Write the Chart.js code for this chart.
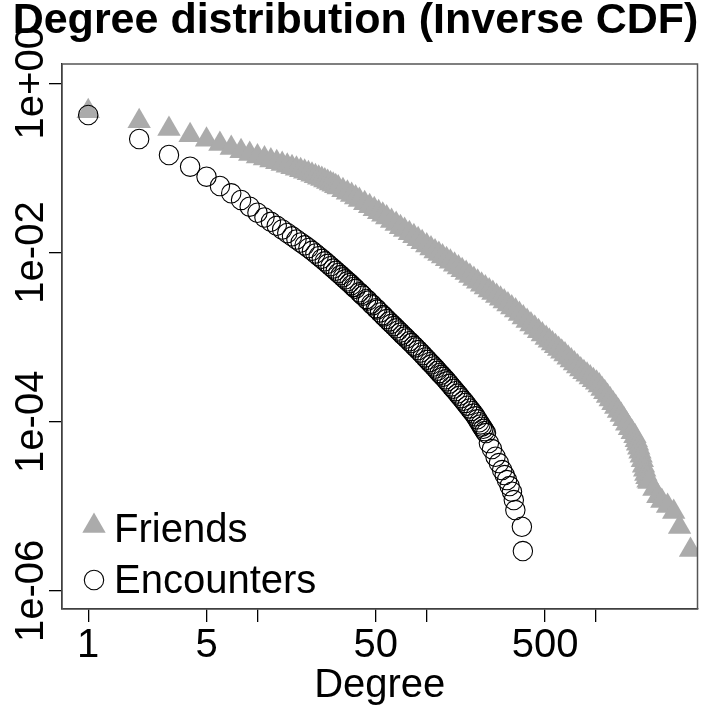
<!DOCTYPE html>
<html>
<head>
<meta charset="utf-8">
<script src="https://cdn.jsdelivr.net/npm/chart.js@4.4.1/dist/chart.umd.min.js"></script>
<style>
  html, body { margin: 0; padding: 0; background: #fff; }
  #wrap { width: 711px; height: 714px; }
</style>
</head>
<body>
<div id="wrap"><canvas id="chart" width="711" height="714"></canvas></div>
<script>
// Texte
const chartTitle = 'Degree distribution (Inverse CDF)';
const xTitle = 'Degree';
const seriesNames = ['Friends', 'Encounters'];

// Achsen (log-log)
const xTickValues = [1, 5, 10, 50, 100, 500, 1000];
const xTickLabels = ['1', '5', '', '50', '', '500', ''];
const yTickValues = [1, 1e-2, 1e-4, 1e-6];
const yTickLabels = ['1e+00', '1e-02', '1e-04', '1e-06'];

// Friends: Grad -> P(D >= Grad)
const friendsDegree = [1, 2, 3, 4, 5, 6, 7, 8, 9, 10, 11, 12, 13, 14, 15, 16, 17, 18, 19, 20,
  21, 22, 23, 24, 25, 26, 27, 28, 29, 30,
  32, 34, 36, 38, 40, 43, 46, 49, 52, 55, 58, 62, 66, 70, 74, 79, 84, 89, 94,
  100, 106, 112, 118, 124, 131, 138, 146, 154, 162, 171, 180, 190, 200, 211, 222,
  234, 246, 259, 273, 287, 302, 318, 335, 353, 372, 392, 413, 435, 458, 482,
  508, 530, 553, 577, 602, 628, 656, 685, 715, 746, 779, 813, 849, 886, 925, 966,
  1008, 1046, 1086, 1127, 1170, 1214, 1260, 1308, 1358, 1410, 1463, 1519, 1577, 1637, 1700,
  1730, 1760, 1790, 1820, 1850, 1880, 1910, 1940, 1970, 2000, 2030, 2060,
  2200, 2320, 2450, 2650, 2880, 3120, 3620];
const friendsCcdf = [0.4667, 0.3555, 0.2884, 0.2428, 0.2154, 0.1916, 0.1718, 0.1571, 0.1460, 0.1364,
  0.1292, 0.1223, 0.1165, 0.1112, 0.1062, 0.1016, 0.0976, 0.0937, 0.0899, 0.0863,
  0.0829, 0.0798, 0.0766, 0.0737, 0.0710, 0.0681, 0.0656, 0.0631, 0.0608, 0.0585,
  0.0545, 0.0509, 0.0477, 0.04455, 0.04184, 0.03825, 0.03517, 0.03241, 0.02995, 0.02790,
  0.02593, 0.02363, 0.02166, 0.01991, 0.01850, 0.01691, 0.01554, 0.01432, 0.01324,
  0.01210, 0.01112, 0.01030, 0.009601, 0.008968, 0.008333, 0.007763, 0.007155, 0.006630,
  0.006178, 0.005707, 0.005289, 0.004874, 0.004505, 0.004151, 0.003858,
  0.003565, 0.003313, 0.003069, 0.002836, 0.002628, 0.002428, 0.002244, 0.002068, 0.001880,
  0.001710, 0.001554, 0.001409, 0.001288, 0.001174, 0.001073,
  0.0009759, 0.0009066, 0.0008401, 0.0007784, 0.0007233, 0.0006702, 0.0006211, 0.0005723,
  0.0005275, 0.0004874, 0.0004493, 0.0004140, 0.0003846, 0.0003584, 0.0003331, 0.0003102,
  0.0002891, 0.0002686, 0.0002441, 0.0002226, 0.0002018, 0.0001830, 0.0001654, 0.0001492,
  0.0001342, 0.0001203, 0.0001068, 9.445e-5, 8.401e-5, 7.535e-5, 6.721e-5,
  6.044e-5, 5.481e-5, 4.928e-5, 4.420e-5, 3.964e-5, 3.498e-5, 3.019e-5, 2.700e-5,
  2.409e-5, 2.202e-5, 2.013e-5, 1.937e-5,
  1.60e-5, 1.32e-5, 1.16e-5, 1.01e-5, 8.57e-6, 5.69e-6, 3.04e-6];

// Encounters
const encDegree = [1, 2, 3, 4, 5, 6, 7, 8, 9, 10, 11, 12, 13, 14, 15, 16, 17, 18, 19, 20,
  21, 22, 23, 24, 25, 26, 27, 28, 29, 30,
  31, 32, 33, 34, 35, 36, 37, 38, 40, 41, 42, 44, 45, 47, 48, 50, 51, 53, 55, 56,
  58, 60, 62, 64, 66, 68, 70, 72, 74, 76, 79, 81, 84, 86, 89, 92, 95, 98, 101, 104,
  107, 110, 113, 116, 119, 122, 125, 129, 132, 136, 140, 144, 148, 152, 156, 160, 165, 169, 174, 179,
  184, 189, 194, 199, 204, 208, 212, 216, 220, 224,
  233, 243, 255, 267, 279, 289, 298, 309, 319, 327, 334, 365, 370];
const encCcdf = [0.4219, 0.2196, 0.1421, 0.1033, 0.0787, 0.0611, 0.0501, 0.0418, 0.0348, 0.0295,
  0.02593, 0.02306, 0.02068, 0.01870, 0.01700, 0.01554, 0.01424, 0.01313, 0.01216, 0.01130,
  0.01047, 0.009732, 0.009045, 0.008424, 0.007870, 0.007352, 0.006888, 0.006452, 0.006077, 0.005723,
  0.005406, 0.005091, 0.004824, 0.004568, 0.004349, 0.004128, 0.003922, 0.003724, 0.003385, 0.003232,
  0.003086, 0.002828, 0.002700, 0.002482, 0.002383, 0.002196, 0.002114, 0.001959, 0.001820, 0.001757,
  0.001636, 0.001533, 0.001436, 0.001349, 0.001271, 0.001197, 0.001133, 0.001070, 0.001016, 0.0009627,
  0.0008943, 0.0008494, 0.0007892, 0.0007556, 0.0007038, 0.0006577, 0.0006143, 0.0005754, 0.0005391, 0.0005063,
  0.0004770, 0.0004493, 0.0004243, 0.0003997, 0.0003774, 0.0003584, 0.0003394, 0.0003171, 0.0003002, 0.0002805,
  0.0002615, 0.0002448, 0.0002300, 0.0002154, 0.0002023, 0.0001901, 0.0001766, 0.0001668, 0.0001546, 0.0001436,
  0.0001342, 0.0001250, 0.0001158, 0.0001068, 9.865e-5, 9.292e-5, 8.751e-5, 8.244e-5, 7.763e-5, 7.352e-5,
  5.600e-5, 4.757e-5, 3.858e-5, 3.249e-5, 2.686e-5, 2.344e-5, 2.046e-5, 1.738e-5, 1.488e-5, 1.187e-5,
  9.04e-6, 5.74e-6, 2.96e-6];

const FONT = '"Liberation Sans", Arial, Helvetica, sans-serif';
const GREY = '#ababab';

const toPoints = (xs, ys) => xs.map((x, i) => ({ x: x, y: ys[i] }));

// Legendenzeichen wie im Plot (Dreieck gefuellt, Kreis offen)
function drawMarker(ctx, ds, x, y) {
    const r = ds.pointRadius;
    ctx.beginPath();
    if (ds.pointStyle === 'triangle') {
        const h = r * Math.sin(Math.PI / 3);
        ctx.moveTo(x, y - r);
        ctx.lineTo(x + h, y + r / 2);
        ctx.lineTo(x - h, y + r / 2);
        ctx.closePath();
        ctx.fillStyle = ds.backgroundColor;
        ctx.fill();
    } else {
        ctx.arc(x, y, r, 0, Math.PI * 2);
        ctx.strokeStyle = ds.borderColor;
        ctx.lineWidth = ds.borderWidth;
        ctx.stroke();
    }
}

// Rahmen, Achsenbeschriftung, Titel und Legende im R-Stil
const rStylePlugin = {
    id: 'rStyle',
    afterDatasetsDraw(chart) {
        const { ctx, chartArea: a } = chart;
        ctx.save();
        ctx.strokeStyle = '#555';
        ctx.lineWidth = 1.5;
        ctx.strokeRect(a.left, a.top, a.right - a.left, a.bottom - a.top);
        ctx.restore();
    },
    afterDraw(chart) {
        const { ctx, chartArea: a, scales } = chart;
        ctx.save();
        ctx.fillStyle = '#000';

        // Titel
        ctx.font = 'bold 43px ' + FONT;
        ctx.textAlign = 'center';
        ctx.textBaseline = 'alphabetic';
        ctx.fillText(chartTitle, 355.5, 33);

        // x-Beschriftungen
        ctx.font = '40px ' + FONT;
        xTickValues.forEach((v, i) => {
            if (!xTickLabels[i]) return;
            ctx.fillText(xTickLabels[i], scales.x.getPixelForValue(v), 657);
        });
        ctx.fillText(xTitle, (a.left + a.right) / 2, 697);

        // y-Beschriftungen (gedreht)
        yTickValues.forEach((v, i) => {
            const py = scales.y.getPixelForValue(v);
            ctx.save();
            ctx.translate(43, py);
            ctx.rotate(-Math.PI / 2);
            ctx.fillText(yTickLabels[i], 0, 0);
            ctx.restore();
        });

        // Legende unten links
        const legendRows = [{ mark: 526, text: 542 }, { mark: 580, text: 593 }];
        chart.data.datasets.forEach((ds, i) => {
            const row = legendRows[i];
            drawMarker(ctx, ds, 94, row.mark);
            ctx.fillStyle = '#000';
            ctx.textAlign = 'left';
            ctx.font = '40px ' + FONT;
            ctx.fillText(ds.label, 114, row.text);
        });
        ctx.restore();
    }
};

const axisGrid = { display: true, drawOnChartArea: false, drawTicks: true, tickLength: 13, color: '#000', lineWidth: 1.3 };

new Chart(document.getElementById('chart'), {
    type: 'scatter',
    data: {
        datasets: [
            {
                label: seriesNames[0],
                data: toPoints(friendsDegree, friendsCcdf),
                pointStyle: 'triangle',
                pointRadius: 13.5,
                backgroundColor: GREY,
                borderColor: GREY,
                borderWidth: 0,
                order: 2,
                clip: 0
            },
            {
                label: seriesNames[1],
                data: toPoints(encDegree, encCcdf),
                pointStyle: 'circle',
                pointRadius: 9.7,
                backgroundColor: 'rgba(0,0,0,0)',
                borderColor: '#000',
                borderWidth: 1.1,
                order: 1,
                clip: 0
            }
        ]
    },
    options: {
        responsive: false,
        animation: false,
        events: [],
        layout: { padding: { left: 49, top: 64, right: 11, bottom: 92 } },
        plugins: { legend: { display: false }, tooltip: { enabled: false }, title: { display: false } },
        scales: {
            x: {
                type: 'logarithmic',
                min: 0.718,
                max: 3981,
                afterBuildTicks: (s) => { s.ticks = xTickValues.map(v => ({ value: v })); },
                grid: axisGrid,
                border: { display: true, color: '#000', width: 1.3 },
                ticks: { display: false }
            },
            y: {
                type: 'logarithmic',
                min: 6.12e-7,
                max: 1.69,
                afterBuildTicks: (s) => { s.ticks = yTickValues.map(v => ({ value: v })); },
                grid: axisGrid,
                border: { display: true, color: '#000', width: 1.3 },
                ticks: { display: false }
            }
        }
    },
    plugins: [rStylePlugin]
});
</script>
</body>
</html>
